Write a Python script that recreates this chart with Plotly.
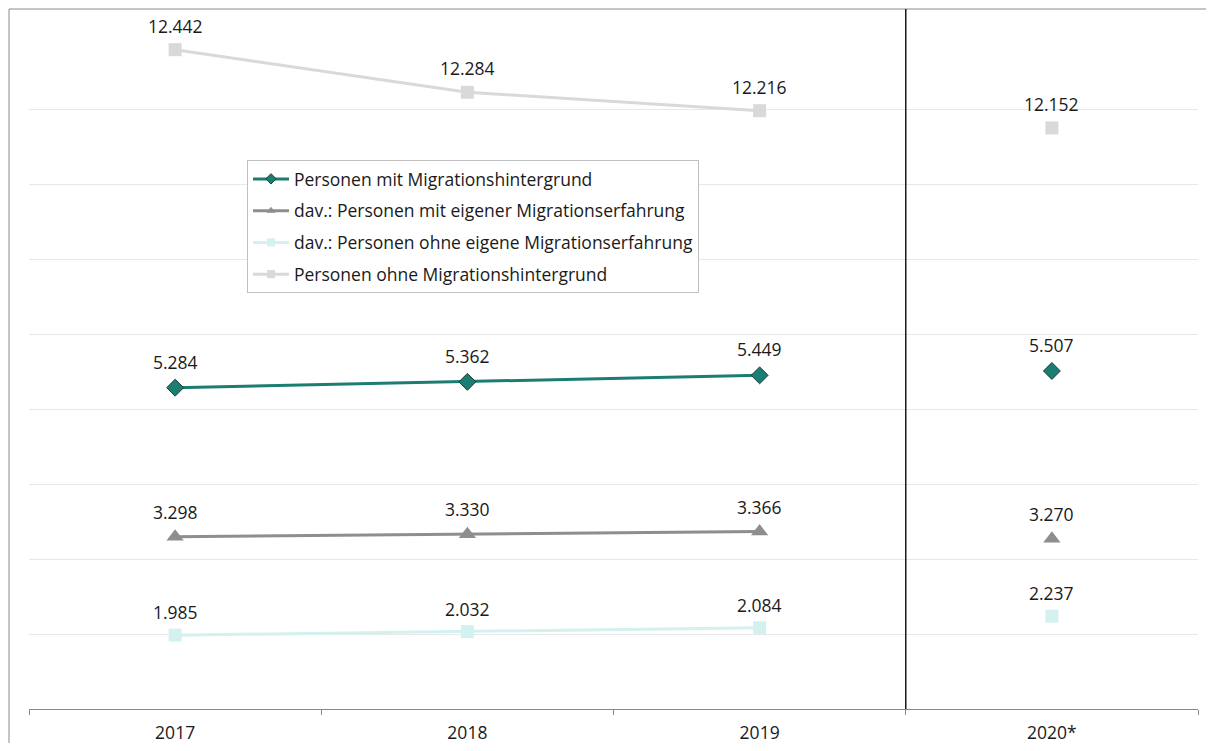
import plotly.graph_objects as go

years = ["2017", "2018", "2019"]
year_proj = ["2020*"]
categories = ["2017", "2018", "2019", "2020*"]

names = [
    "Personen mit Migrationshintergrund",
    "dav.: Personen mit eigener Migrationserfahrung",
    "dav.: Personen ohne eigene Migrationserfahrung",
    "Personen ohne Migrationshintergrund",
]
mit_mh = [5284, 5362, 5449]
mit_mh_2020 = [5507]
eigene = [3298, 3330, 3366]
eigene_2020 = [3270]
ohne_eigene = [1985, 2032, 2084]
ohne_eigene_2020 = [2237]
ohne_mh = [12442, 12284, 12216]
ohne_mh_2020 = [12152]

colors = ["#1c7d72", "#8e8e8e", "#d3f2ef", "#d9d9d9"]
symbols = ["diamond", "triangle-up", "square", "square"]
sizes = [13, 15, 13, 13]
legend_sizes = [8, 8, 8, 8]
label_shift = [26, 25, 23, 24]
series = [
    (mit_mh, mit_mh_2020, "y"),
    (eigene, eigene_2020, "y"),
    (ohne_eigene, ohne_eigene_2020, "y"),
    (ohne_mh, ohne_mh_2020, "y2"),
]

FONT = "Open Sans"
FS = 17.5


def fmt(v):
    return f"{v:,}".replace(",", ".")


fig = go.Figure()
annotations = []
for i, (vals, vals20, ax) in enumerate(series):
    mline = dict(color="#153f3a", width=1) if i == 0 else dict(width=0)
    fig.add_trace(go.Scatter(
        x=years, y=vals, name=names[i], yaxis=ax, showlegend=False,
        mode="lines+markers", cliponaxis=False,
        line=dict(color=colors[i], width=3),
        marker=dict(symbol=symbols[i], size=sizes[i], color=colors[i], line=mline),
    ))
    fig.add_trace(go.Scatter(
        x=year_proj, y=vals20, name=names[i], yaxis=ax, showlegend=False,
        mode="markers", cliponaxis=False,
        marker=dict(symbol=symbols[i], size=sizes[i], color=colors[i], line=mline),
    ))
    # legend-only entry
    fig.add_trace(go.Scatter(
        x=[None], y=[None], name=names[i], yaxis=ax, mode="lines+markers",
        line=dict(color=colors[i], width=3),
        marker=dict(symbol=symbols[i], size=legend_sizes[i], color=colors[i], line=mline),
        legendgroup=f"g{i}",
    ))
    yref = "y" if ax == "y" else "y2"
    for xx, vv in list(zip(years, vals)) + list(zip(year_proj, vals20)):
        annotations.append(dict(
            x=categories.index(xx), y=vv, xref="x", yref=yref, text=fmt(vv),
            showarrow=False, yshift=label_shift[i], xanchor="center", yanchor="middle",
            font=dict(family=FONT, size=FS, color="#1a1a1a"),
        ))

# page offset of 8px (body margin) accounted for
L, T = 21, 26
W, H = 1198, 735
pw, ph = 1169, 675
R = W - L - pw
B = H - T - ph

fig.update_layout(
    width=W, height=H,
    margin=dict(l=L, r=R, t=T, b=B, pad=0, autoexpand=False),
    paper_bgcolor="white", plot_bgcolor="white",
    font=dict(family=FONT, size=FS, color="#1a1a1a"),
    xaxis=dict(type="category", categoryorder="array", categoryarray=categories,
               range=[-0.5, 3.5], tickson="boundaries", ticks="outside", ticklen=5,
               tickcolor="#888888", showline=True, linecolor="#888888", linewidth=1,
               showgrid=False, ticklabelstandoff=8, automargin=False,
               tickfont=dict(family=FONT, size=FS, color="#1a1a1a")),
    yaxis=dict(range=[1000, 10000], tickvals=[2000, 3000, 4000, 5000, 6000, 7000, 8000, 9000],
               showticklabels=False, showgrid=True, gridcolor="#e8e8e8", gridwidth=1,
               zeroline=False, showline=False, ticks="", automargin=False),
    yaxis2=dict(range=[10000, 12500], overlaying="y", side="right", showgrid=False,
                showticklabels=False, zeroline=False, showline=False, ticks="",
                automargin=False),
    showlegend=True,
    legend=dict(x=(247 - 29) / pw, y=(709 - 160) / ph, xanchor="left", yanchor="top",
                bordercolor="#bfbfbf", borderwidth=1, bgcolor="white",
                traceorder="grouped", tracegroupgap=6, itemwidth=36,
                font=dict(family=FONT, size=FS, color="#1a1a1a")),
    annotations=annotations,
    shapes=[
        dict(type="rect", xref="paper", yref="paper",
             x0=(1 - L) / pw, x1=1.2, y0=-0.3, y1=(T + ph - 1) / ph,
             line=dict(color="#8a8a8a", width=1), layer="below"),
        dict(type="line", xref="x", yref="paper", x0=2.5, x1=2.5,
             y0=0, y1=(T + ph - 1) / ph, line=dict(color="#1a1a1a", width=1.5)),
    ],
)

fig.write_html("out.html")
